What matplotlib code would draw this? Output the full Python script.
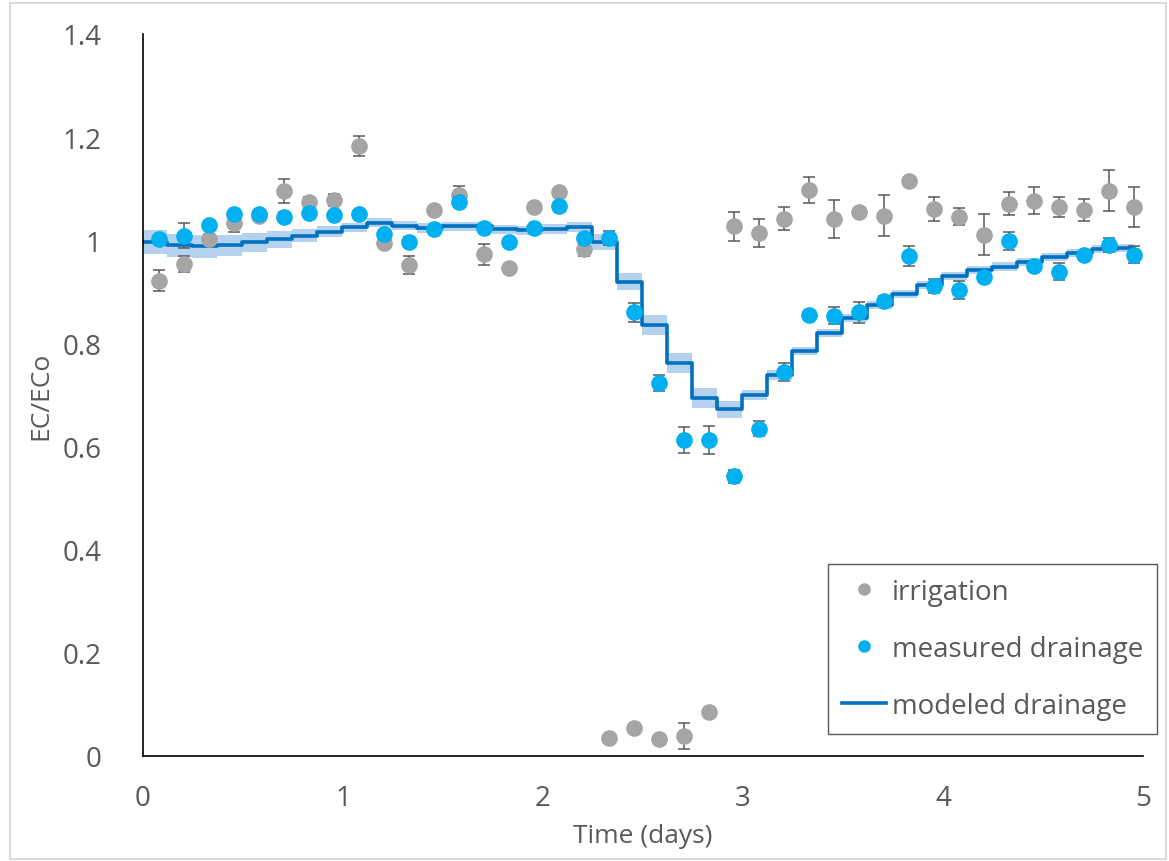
import matplotlib
matplotlib.use("Agg")
import matplotlib.pyplot as plt
from matplotlib.lines import Line2D
import numpy as np

plt.rcParams['font.family'] = ['Open Sans', 'DejaVu Sans']

# sample times (days)
t = [0.08 + 0.125 * i for i in range(40)]

irrigation = [0.922, 0.954, 1.002, 1.034, 1.048, 1.096, 1.074, 1.078, 1.183, 0.995,
              0.952, 1.059, 1.088, 0.973, 0.947, 1.064, 1.094, 0.984, 0.034, 0.054,
              0.033, 0.039, 0.085, 1.027, 1.014, 1.042, 1.098, 1.042, 1.054, 1.048,
              1.114, 1.061, 1.046, 1.011, 1.071, 1.077, 1.064, 1.059, 1.096, 1.064]
irrigation_err = [0.021, 0.015, 0.010, 0.018, 0.008, 0.023, 0.010, 0.012, 0.019, 0.008,
                  0.018, 0.005, 0.018, 0.020, 0.005, 0.008, 0.008, 0.014, 0.005, 0.005,
                  0.008, 0.025, 0.005, 0.028, 0.027, 0.023, 0.025, 0.037, 0.006, 0.039,
                  0.005, 0.023, 0.016, 0.040, 0.022, 0.027, 0.019, 0.022, 0.040, 0.039]

drainage = [1.003, 1.009, 1.030, 1.050, 1.051, 1.045, 1.053, 1.049, 1.050, 1.012,
            0.997, 1.021, 1.074, 1.024, 0.997, 1.023, 1.067, 1.005, 1.004, 0.860,
            0.723, 0.613, 0.613, 0.542, 0.635, 0.745, 0.855, 0.854, 0.860, 0.883,
            0.969, 0.911, 0.904, 0.928, 0.999, 0.951, 0.939, 0.972, 0.991, 0.972]
drainage_err = [0.008, 0.024, 0.008, 0.008, 0.008, 0.010, 0.008, 0.008, 0.008, 0.008,
                0.010, 0.008, 0.010, 0.008, 0.008, 0.008, 0.008, 0.008, 0.014, 0.018,
                0.015, 0.025, 0.027, 0.012, 0.015, 0.018, 0.008, 0.016, 0.021, 0.008,
                0.019, 0.013, 0.018, 0.008, 0.018, 0.008, 0.016, 0.008, 0.013, 0.017]

# modeled drainage: step function, step edges every 0.125 d
model_t = [0.0] + [0.12 + 0.125 * k for k in range(39)] + [4.955]
model = [0.997, 0.990, 0.988, 0.990, 0.996, 1.002, 1.009, 1.017, 1.025, 1.034,
         1.028, 1.024, 1.027, 1.027, 1.021, 1.019, 1.022, 1.026, 0.997, 0.920,
         0.836, 0.762, 0.694, 0.672, 0.700, 0.739, 0.786, 0.820, 0.849, 0.874,
         0.896, 0.913, 0.931, 0.942, 0.949, 0.958, 0.967, 0.976, 0.983, 0.985]
model_band = [0.023, 0.023, 0.023, 0.021, 0.019, 0.016, 0.013, 0.011, 0.009, 0.009,
              0.009, 0.009, 0.009, 0.009, 0.009, 0.009, 0.009, 0.009, 0.016, 0.017,
              0.019, 0.020, 0.019, 0.016, 0.010, 0.009, 0.008, 0.008, 0.008, 0.008,
              0.008, 0.008, 0.008, 0.008, 0.008, 0.008, 0.008, 0.008, 0.008, 0.008]

grey = '#A5A5A5'
cyan = '#00B0F0'
blue = '#0070C0'
band_col = '#B4D2EE'
txt = '#595959'

fig = plt.figure(figsize=(11.69, 8.62), dpi=100)
ax = fig.add_axes([143 / 1169, 1 - 757 / 862, 1000 / 1169, 722 / 862])

# outer chart frame
fig.add_artist(plt.Rectangle((10 / 1169, 2 / 862), 1156 / 1169, 856 / 862,
                             transform=fig.transFigure, fill=False,
                             edgecolor='#D9D9D9', lw=1.5))

mv = np.array(model + [model[-1]])
mb = np.array(model_band + [model_band[-1]])
ax.fill_between(model_t, mv - mb, mv + mb, step='post', color=band_col, lw=0, zorder=1)
ax.step(model_t, mv, where='post', color=blue, lw=2.6, zorder=2)

ax.errorbar(t, irrigation, yerr=irrigation_err, fmt='o', color=grey, ms=11,
            ecolor='#595959', elinewidth=1.1, capsize=4.5, capthick=1.1, zorder=3)
ax.errorbar(t, drainage, yerr=drainage_err, fmt='o', color=cyan, ms=11,
            ecolor='#595959', elinewidth=1.1, capsize=4.5, capthick=1.1, zorder=4)

ax.set_xlim(0, 5)
ax.set_ylim(0, 1.4)
ax.set_xticks([0, 1, 2, 3, 4, 5])
ax.set_xticklabels(['0', '1', '2', '3', '4', '5'])
ax.set_yticks([0, 0.2, 0.4, 0.6, 0.8, 1.0, 1.2, 1.4])
ax.set_yticklabels(['0', '0.2', '0.4', '0.6', '0.8', '1', '1.2', '1.4'])
ax.tick_params(length=0, labelsize=20, labelcolor=txt)
ax.tick_params(axis='x', pad=20)
ax.tick_params(axis='y', pad=30)
for s in ['top', 'right']:
    ax.spines[s].set_visible(False)
for s in ['left', 'bottom']:
    ax.spines[s].set_color('black')
    ax.spines[s].set_linewidth(1.2)

ax.set_xlabel('Time (days)', fontsize=19, color=txt, labelpad=8)
ax.set_ylabel('EC/ECo', fontsize=19, color=txt, labelpad=6)

handles = [Line2D([], [], ls='none', marker='o', ms=8, color=grey),
           Line2D([], [], ls='none', marker='o', ms=8, color=cyan),
           Line2D([], [], color=blue, lw=2.6)]
labels = ['irrigation', 'measured drainage', 'modeled drainage']
leg = ax.legend(handles, labels,
                loc='lower right', bbox_to_anchor=(1157 / 1169, 1 - 735 / 862),
                bbox_transform=fig.transFigure, fontsize=20, labelcolor=txt,
                fancybox=False, edgecolor='#595959', framealpha=1,
                handlelength=1.6, handletextpad=0.2,
                labelspacing=1.05, borderpad=0.5, borderaxespad=0)
leg.get_frame().set_linewidth(1.0)

fig.savefig('out.png', dpi=100)
